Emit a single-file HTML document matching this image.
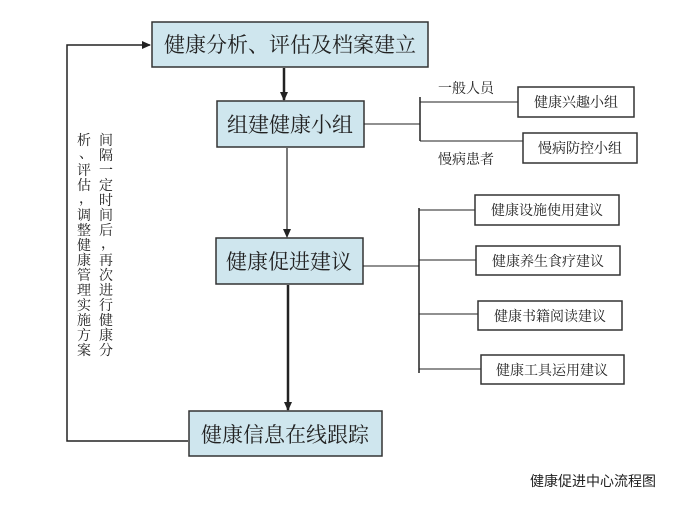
<!DOCTYPE html>
<html><head><meta charset="utf-8"><style>
html,body{margin:0;padding:0;background:#fff;}
svg text{font-family:"Liberation Serif","Noto Serif CJK SC","Noto Sans CJK SC",serif;fill:#222;}
</style></head><body>
<svg width="676" height="504" viewBox="0 0 676 504" xmlns="http://www.w3.org/2000/svg">
<defs><marker id="a" markerWidth="10" markerHeight="10" refX="8" refY="5" orient="auto" markerUnits="userSpaceOnUse"><path d="M0,1 L9,5 L0,9 Z" fill="#222"/></marker></defs>
<g stroke="#333" fill="#cfe6ee" stroke-width="1.5">
<rect x="152" y="22" width="276" height="45"/>
<rect x="217" y="101" width="147" height="46"/>
<rect x="216" y="238" width="147" height="46"/>
<rect x="189" y="411" width="193" height="45"/>
</g>
<g font-size="21" text-anchor="middle">
<text x="290" y="52">健康分析、评估及档案建立</text>
<text x="290" y="132">组建健康小组</text>
<text x="289" y="269">健康促进建议</text>
<text x="285" y="442">健康信息在线跟踪</text>
</g>
<g stroke="#222" fill="none">
<line x1="284" y1="68" x2="284" y2="100" stroke-width="2.5" marker-end="url(#a)"/>
<line x1="287" y1="148" x2="287" y2="237" stroke-width="1.2" marker-end="url(#a)"/>
<line x1="288" y1="285" x2="288" y2="410" stroke-width="2.5" marker-end="url(#a)"/>
<polyline points="188,441 67,441 67,45 150,45" stroke-width="1.5" marker-end="url(#a)"/>
<line x1="364" y1="124" x2="420" y2="124" stroke-width="1"/>
<line x1="420" y1="97" x2="420" y2="141" stroke-width="1.5"/>
<line x1="420" y1="102" x2="518" y2="102" stroke-width="1"/>
<line x1="420" y1="141" x2="523" y2="141" stroke-width="1"/>
<line x1="363" y1="266" x2="419" y2="266" stroke-width="1"/>
<line x1="419" y1="208" x2="419" y2="373" stroke-width="1.5"/>
<line x1="419" y1="210" x2="475" y2="210" stroke-width="1"/>
<line x1="419" y1="260" x2="476" y2="260" stroke-width="1"/>
<line x1="419" y1="314" x2="478" y2="314" stroke-width="1"/>
<line x1="419" y1="369" x2="481" y2="369" stroke-width="1"/>
</g>
<g stroke="#333" fill="#fff" stroke-width="1.5">
<rect x="518" y="87" width="116" height="30"/>
<rect x="523" y="133" width="114" height="30"/>
<rect x="475" y="195" width="144" height="30"/>
<rect x="476" y="246" width="144" height="29"/>
<rect x="478" y="301" width="144" height="29"/>
<rect x="481" y="355" width="143" height="29"/>
</g>
<g font-size="14" text-anchor="middle">
<text x="576" y="107">健康兴趣小组</text>
<text x="580" y="153">慢病防控小组</text>
<text x="547" y="215">健康设施使用建议</text>
<text x="548" y="266">健康养生食疗建议</text>
<text x="550" y="321">健康书籍阅读建议</text>
<text x="552" y="375">健康工具运用建议</text>
</g>
<g font-size="14">
<text x="438" y="93">一般人员</text>
<text x="438" y="164">慢病患者</text>
</g>
<g font-size="13.5" text-anchor="middle">
<text x="106" y="146" style="writing-mode:vertical-rl" transform="translate(0,0)"></text>
</g>
<g font-size="14" text-anchor="middle">
<g id="c1">
<text x="106" y="145">间</text><text x="106" y="160">隔</text><text x="106" y="175">一</text><text x="106" y="190">定</text><text x="106" y="205">时</text><text x="106" y="220">间</text><text x="106" y="235">后</text><text x="108" y="248">，</text><text x="106" y="265">再</text><text x="106" y="280">次</text><text x="106" y="295">进</text><text x="106" y="310">行</text><text x="106" y="325">健</text><text x="106" y="340">康</text><text x="106" y="355">分</text>
</g>
<g>
<text x="84" y="145">析</text><text x="86" y="158">、</text><text x="84" y="175">评</text><text x="84" y="190">估</text><text x="86" y="203">，</text><text x="84" y="220">调</text><text x="84" y="235">整</text><text x="84" y="250">健</text><text x="84" y="265">康</text><text x="84" y="280">管</text><text x="84" y="295">理</text><text x="84" y="310">实</text><text x="84" y="325">施</text><text x="84" y="340">方</text><text x="84" y="355">案</text>
</g>
</g>
<text x="530" y="486" font-size="14" style="font-family:'Liberation Sans','Noto Sans CJK SC',sans-serif">健康促进中心流程图</text>
</svg>
</body></html>
